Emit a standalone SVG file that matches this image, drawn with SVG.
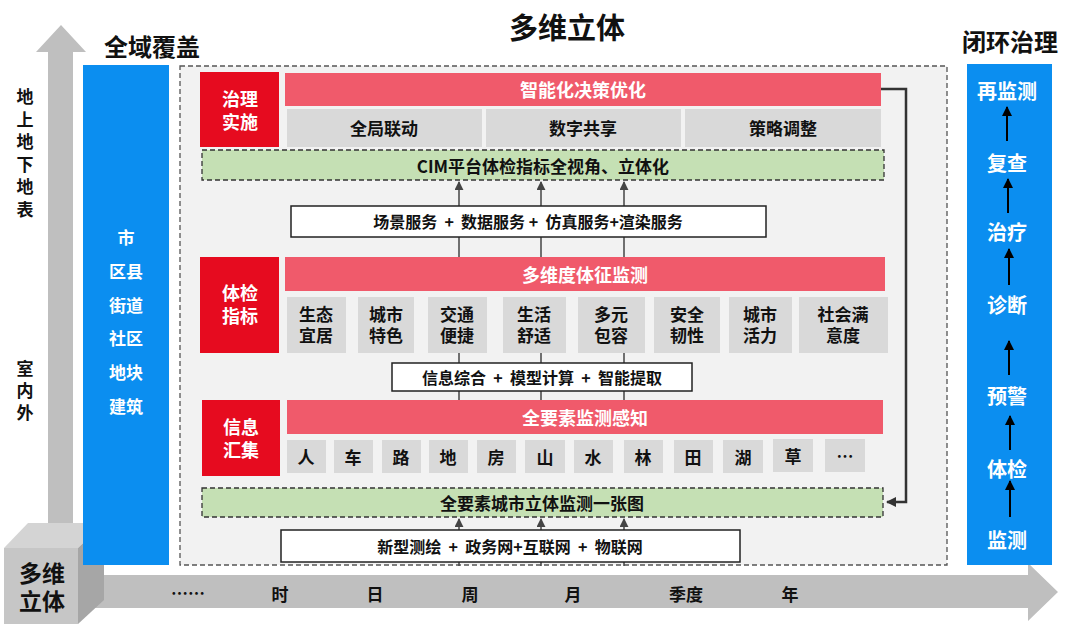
<svg xmlns="http://www.w3.org/2000/svg" width="1080" height="624" viewBox="0 0 1080 624">
<defs>
<style>
text{font-family:"Noto Sans CJK SC","Noto Sans",sans-serif;font-weight:700;text-anchor:middle;dominant-baseline:central}
.pre{white-space:pre}
.t{fill:#111}
.w{fill:#fff}
.red{fill:#e60b1f}
.pink{fill:#f05a6b}
.gray{fill:#d9d9d9}
.green{fill:#c5e0b4;stroke:#333;stroke-width:1.3;stroke-dasharray:5 3}
.wbox{fill:#fff;stroke:#222;stroke-width:1.5}
.blue{fill:#0b8ef0}
.ln{stroke:#444;stroke-width:1.5;fill:none}
.bl{stroke:#000;stroke-width:2;fill:none}
</style>
<marker id="ah" viewBox="0 0 10 10" refX="9" refY="5" markerWidth="6" markerHeight="6" orient="auto-start-reverse"><path d="M0,0L10,5L0,10z" fill="#444"/></marker>
<marker id="bh" viewBox="0 0 10 10" refX="9" refY="5" markerWidth="5" markerHeight="6" orient="auto-start-reverse"><path d="M0,0L10,5L0,10z" fill="#000"/></marker>
<marker id="dh" viewBox="0 0 10 10" refX="9" refY="5" markerWidth="4" markerHeight="4" orient="auto-start-reverse"><path d="M0,0L10,5L0,10z" fill="#333"/></marker>
</defs>
<rect width="1080" height="624" fill="#fff"/>

<!-- axes -->
<g id="axes">
<path d="M48,525V52H36L61,25L86,52H73V525z" fill="#bfbfbf"/>
<path d="M90,575H1028V563L1058,592L1028,621V608H90z" fill="#bfbfbf"/>
<g id="cube">
<path d="M4,548L28,523H104L78,548z" fill="#d4d4d4"/>
<path d="M78,548L104,523V600L78,624z" fill="#a6a6a6"/>
<rect x="4" y="548" width="74" height="76" fill="#c6c6c6"/>
<text x="42" y="572" font-size="23" class="t"><tspan x="42">多维</tspan><tspan x="42" dy="28">立体</tspan></text>
</g>
<g font-size="17">
<text x="188" y="592" class="t">……</text>
<text x="280" y="593" class="t">时</text>
<text x="375" y="593" class="t">日</text>
<text x="470" y="593" class="t">周</text>
<text x="573" y="593" class="t">月</text>
<text x="686" y="593" class="t">季度</text>
<text x="790" y="593" class="t">年</text>
</g>
<text x="25" y="95" font-size="17" class="t"><tspan x="25">地</tspan><tspan x="25" dy="22.5">上</tspan><tspan x="25" dy="22.5">地</tspan><tspan x="25" dy="22.5">下</tspan><tspan x="25" dy="22.5">地</tspan><tspan x="25" dy="22.5">表</tspan></text>
<text x="25" y="367" font-size="17" class="t"><tspan x="25">室</tspan><tspan x="25" dy="22">内</tspan><tspan x="25" dy="22">外</tspan></text>
</g>

<!-- titles -->
<text x="152" y="45" font-size="24" class="t">全域覆盖</text>
<text x="567" y="26" font-size="29" class="t">多维立体</text>
<text x="1010" y="40" font-size="24" class="t">闭环治理</text>

<!-- left blue column -->
<g id="coverage">
<rect x="83" y="65" width="86" height="500" class="blue"/>
<g font-size="17" class="w">
<text x="126" y="236" class="w">市</text>
<text x="126" y="270" class="w">区县</text>
<text x="126" y="304" class="w">街道</text>
<text x="126" y="337" class="w">社区</text>
<text x="126" y="371" class="w">地块</text>
<text x="126" y="405" class="w">建筑</text>
</g>
</g>

<!-- right blue column -->
<g id="closedloop">
<rect x="967" y="64" width="85" height="501" class="blue"/>
<g font-size="20">
<text x="1007" y="90" class="w">再监测</text>
<text x="1007" y="162" class="w">复查</text>
<text x="1007" y="231" class="w">治疗</text>
<text x="1007" y="304" class="w">诊断</text>
<text x="1007" y="395" class="w">预警</text>
<text x="1007" y="468" class="w">体检</text>
<text x="1007" y="539" class="w">监测</text>
</g>
<g class="bl">
<line x1="1007" y1="141" x2="1007" y2="107" marker-end="url(#bh)"/>
<line x1="1008" y1="213" x2="1008" y2="179" marker-end="url(#bh)"/>
<line x1="1009" y1="285" x2="1009" y2="249" marker-end="url(#bh)"/>
<line x1="1009" y1="375" x2="1009" y2="341" marker-end="url(#bh)"/>
<line x1="1010" y1="450" x2="1010" y2="416" marker-end="url(#bh)"/>
<line x1="1010" y1="517" x2="1010" y2="481" marker-end="url(#bh)"/>
</g>
</g>

<!-- main panel -->
<rect x="180" y="66" width="767" height="499" fill="#f2f2f2" stroke="#555" stroke-width="1.3" stroke-dasharray="5 3"/>

<!-- connectors -->
<g id="connectors">
<g class="ln">
<line x1="459" y1="206" x2="459" y2="182" marker-end="url(#ah)"/>
<line x1="541" y1="206" x2="541" y2="182" marker-end="url(#ah)"/>
<line x1="624" y1="206" x2="624" y2="182" marker-end="url(#ah)"/>
<line x1="459" y1="237" x2="459" y2="257"/>
<line x1="541" y1="237" x2="541" y2="257"/>
<line x1="624" y1="237" x2="624" y2="257"/>
<line x1="459" y1="353" x2="459" y2="363"/>
<line x1="541" y1="353" x2="541" y2="363"/>
<line x1="624" y1="353" x2="624" y2="363"/>
<line x1="459" y1="391" x2="459" y2="400"/>
<line x1="541" y1="391" x2="541" y2="400"/>
<line x1="624" y1="391" x2="624" y2="400"/>
<line x1="459" y1="530" x2="459" y2="519" marker-end="url(#ah)"/>
<line x1="541" y1="530" x2="541" y2="519" marker-end="url(#ah)"/>
<line x1="624" y1="530" x2="624" y2="519" marker-end="url(#ah)"/>
<line x1="459" y1="562" x2="459" y2="566"/>
<line x1="541" y1="562" x2="541" y2="566"/>
<line x1="624" y1="562" x2="624" y2="566"/>
</g>
<path d="M881,89H906V502H887" fill="none" stroke="#333" stroke-width="2.5" marker-end="url(#dh)"/>
</g>

<!-- governance layer -->
<g id="governance">
<rect x="200" y="72" width="79" height="75" class="red"/>
<text x="240" y="98" font-size="18" class="w"><tspan x="240">治理</tspan><tspan x="240" dy="23">实施</tspan></text>
<rect x="285" y="73" width="596" height="33" class="pink"/>
<text x="583" y="89" font-size="18" class="w">智能化决策优化</text>
<rect x="287" y="109" width="195" height="38" class="gray"/>
<rect x="486" y="109" width="195" height="38" class="gray"/>
<rect x="685" y="109" width="196" height="38" class="gray"/>
<text x="384" y="127" font-size="17" class="t">全局联动</text>
<text x="583" y="127" font-size="17" class="t">数字共享</text>
<text x="783" y="127" font-size="17" class="t">策略调整</text>
</g>
<g id="cim">
<rect x="202" y="150" width="682" height="30" class="green"/>
<text x="543" y="165" font-size="17" class="t">CIM平台体检指标全视角、立体化</text>
</g>
<g id="services">
<rect x="291" y="206" width="475" height="31" class="wbox"/>
<text x="528" y="221" font-size="16" class="t pre">场景服务  +  数据服务 +  仿真服务+渲染服务</text>
</g>

<!-- indicators layer -->
<g id="indicators">
<rect x="200" y="257" width="79" height="96" class="red"/>
<text x="240" y="292" font-size="18" class="w"><tspan x="240">体检</tspan><tspan x="240" dy="23">指标</tspan></text>
<rect x="285" y="257" width="600" height="34" class="pink"/>
<text x="585" y="274" font-size="18" class="w">多维度体征监测</text>
<g class="gray">
<rect x="287" y="297" width="59" height="56"/>
<rect x="358" y="297" width="56" height="56"/>
<rect x="428" y="297" width="59" height="56"/>
<rect x="503" y="297" width="63" height="56"/>
<rect x="578" y="297" width="67" height="56"/>
<rect x="654" y="297" width="66" height="56"/>
<rect x="729" y="297" width="63" height="56"/>
<rect x="799" y="297" width="89" height="56"/>
</g>
<g font-size="17">
<text x="316" y="313" class="t"><tspan x="316">生态</tspan><tspan x="316" dy="21">宜居</tspan></text>
<text x="386" y="313" class="t"><tspan x="386">城市</tspan><tspan x="386" dy="21">特色</tspan></text>
<text x="457" y="313" class="t"><tspan x="457">交通</tspan><tspan x="457" dy="21">便捷</tspan></text>
<text x="534" y="313" class="t"><tspan x="534">生活</tspan><tspan x="534" dy="21">舒适</tspan></text>
<text x="611" y="313" class="t"><tspan x="611">多元</tspan><tspan x="611" dy="21">包容</tspan></text>
<text x="687" y="313" class="t"><tspan x="687">安全</tspan><tspan x="687" dy="21">韧性</tspan></text>
<text x="760" y="313" class="t"><tspan x="760">城市</tspan><tspan x="760" dy="21">活力</tspan></text>
<text x="843" y="313" class="t"><tspan x="843">社会满</tspan><tspan x="843" dy="21">意度</tspan></text>
</g>
</g>
<g id="processing">
<rect x="392" y="363" width="300" height="28" class="wbox"/>
<text x="542" y="377" font-size="16" class="t pre">信息综合  +  模型计算  +  智能提取</text>
</g>

<!-- collection layer -->
<g id="collection">
<rect x="202" y="400" width="78" height="76" class="red"/>
<text x="241" y="426" font-size="18" class="w"><tspan x="241">信息</tspan><tspan x="241" dy="23">汇集</tspan></text>
<rect x="287" y="400" width="596" height="34" class="pink"/>
<text x="585" y="417" font-size="18" class="w">全要素监测感知</text>
<g class="gray">
<rect x="287" y="440" width="39" height="33"/>
<rect x="334" y="440" width="39" height="33"/>
<rect x="382" y="440" width="39" height="33"/>
<rect x="429" y="440" width="39" height="33"/>
<rect x="477" y="440" width="39" height="33"/>
<rect x="525" y="440" width="40" height="33"/>
<rect x="574" y="440" width="39" height="33"/>
<rect x="624" y="440" width="39" height="33"/>
<rect x="674" y="440" width="39" height="33"/>
<rect x="723" y="440" width="40" height="33"/>
<rect x="773" y="439" width="40" height="33"/>
<rect x="825" y="439" width="40" height="33"/>
</g>
<g font-size="17">
<text x="306" y="456" class="t">人</text>
<text x="353" y="456" class="t">车</text>
<text x="401" y="456" class="t">路</text>
<text x="448" y="456" class="t">地</text>
<text x="496" y="456" class="t">房</text>
<text x="545" y="456" class="t">山</text>
<text x="593" y="456" class="t">水</text>
<text x="643" y="456" class="t">林</text>
<text x="693" y="456" class="t">田</text>
<text x="743" y="456" class="t">湖</text>
<text x="793" y="455" class="t">草</text>
<text x="845" y="455" class="t">…</text>
</g>
</g>
<g id="onemap">
<rect x="202" y="488" width="681" height="29" class="green"/>
<text x="542" y="502" font-size="17" class="t">全要素城市立体监测一张图</text>
</g>
<g id="sources">
<rect x="281" y="530" width="459" height="32" class="wbox"/>
<text x="510" y="546" font-size="16" class="t pre">新型测绘  +  政务网+互联网  +  物联网</text>
</g>
</svg>
